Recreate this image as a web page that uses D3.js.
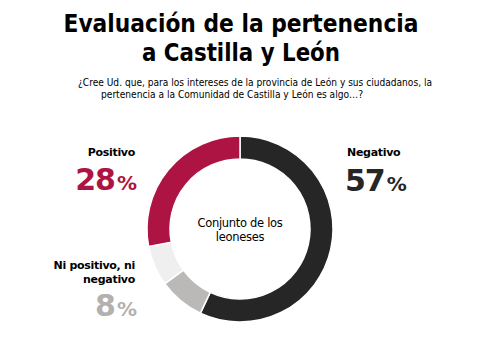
<!DOCTYPE html>
<html>
<head>
<meta charset="utf-8">
<script src="https://cdn.jsdelivr.net/npm/d3@7"></script>
<style>
body { margin: 0; background: #fff; }
svg { display: block; font-family: "DejaVu Sans", Verdana, sans-serif; }
</style>
</head>
<body>
<div class="chart"></div>
<script>
// respuestas, en orden horario desde arriba
var categorias = ["Negativo", "Ni positivo, ni negativo", "NS/NC", "Positivo"]
var valores = [57, 8, 7, 28]
var colores = ["#262626", "#bbb9b8", "#efefef", "#ad1443"]

var width = 493
var height = 340
var svg = d3.select(".chart").append("svg").attr("width", width).attr("height", height)

// titulo (ancho ajustado por linea)
var titulo = ["Evaluación de la pertenencia", "a Castilla y León"]
var anchoTitulo = [355, 198]
svg.selectAll("text.titulo").data(titulo).enter()
    .append("text").attr("class", "titulo")
    .attr("x", 241).attr("y", function(d, i){ return 32 + i * 29 })
    .attr("text-anchor", "middle").attr("font-size", "25px").attr("font-weight", "bold")
    .attr("textLength", function(d, i){ return anchoTitulo[i] }).attr("lengthAdjust", "spacingAndGlyphs")
    .text(function(d){ return d })

var subtitulo = ["¿Cree Ud. que, para los intereses de la provincia de León y sus ciudadanos, la",
    "pertenencia a la Comunidad de Castilla y León es algo…?"]
var inicioSub = [78, 101]
var anchoSub = [354, 262]
svg.selectAll("text.sub").data(subtitulo).enter()
    .append("text").attr("class", "sub")
    .attr("x", function(d, i){ return inicioSub[i] }).attr("y", function(d, i){ return 86 + i * 11.5 })
    .attr("font-size", "10.4px")
    .attr("textLength", function(d, i){ return anchoSub[i] }).attr("lengthAdjust", "spacingAndGlyphs")
    .text(function(d){ return d })

// donut
var cx = 240, cy = 229
var pie = d3.pie().sort(null).value(function(d){ return d })
var arc = d3.arc().innerRadius(70).outerRadius(93)

var g = svg.append("g").attr("transform", "translate(" + cx + "," + cy + ")")
g.selectAll("path").data(pie(valores)).enter()
    .append("path").attr("d", arc)
    .attr("fill", function(d, i){ return colores[i] })
    .attr("stroke", "#fff").attr("stroke-width", 1.5)

g.append("text").attr("y", -2).attr("text-anchor", "middle").attr("font-size", "11.5px")
    .attr("letter-spacing", "-0.3px").text("Conjunto de los")
g.append("text").attr("y", 12).attr("text-anchor", "middle").attr("font-size", "11.5px")
    .attr("letter-spacing", "-0.3px").text("leoneses")

// etiquetas
var etiquetas = [
    {lineas: ["Negativo"], valor: valores[0], color: colores[0], x: 345, anchor: "start", y: 156, yv: 191},
    {lineas: ["Ni positivo, ni", "negativo"], valor: valores[1], color: "#b3b1b0", x: 137, anchor: "end", y: 269, yv: 316},
    {lineas: ["Positivo"], valor: valores[3], color: colores[3], x: 137, anchor: "end", y: 156, yv: 190}
]

etiquetas.forEach(function(e){
    e.lineas.forEach(function(l, i){
        svg.append("text").attr("x", e.anchor == "end" ? e.x - 2 : e.x + 2).attr("y", e.y + i * 13.5)
            .attr("text-anchor", e.anchor).attr("font-size", "11px").attr("font-weight", "bold")
            .attr("letter-spacing", "-0.3px")
            .text(l)
    })
    var t = svg.append("text").attr("x", e.x).attr("y", e.yv)
        .attr("text-anchor", e.anchor).attr("font-weight", "bold").attr("fill", e.color)
    t.append("tspan").attr("font-size", "30px").attr("letter-spacing", "-1px").text(e.valor)
    t.append("tspan").attr("font-size", "20px").attr("dx", "2").text("%")
})
</script>
</body>
</html>
